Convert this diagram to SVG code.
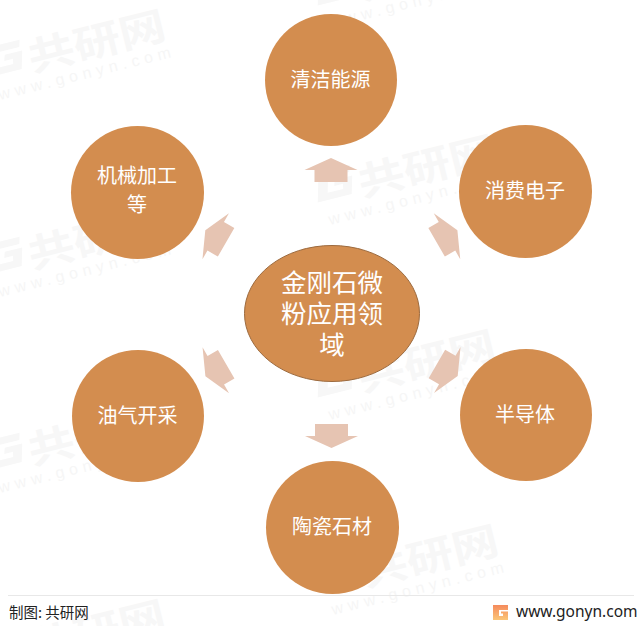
<svg xmlns="http://www.w3.org/2000/svg" width="642" height="626" viewBox="0 0 642 626">
<style>
text{font-family:"Noto Sans CJK SC","Liberation Sans",sans-serif}
.n{fill:#d38d4f}
.t{fill:#fff;font-size:20px;text-anchor:middle}
.a{fill:#e6c4b2}
.wm{fill:#f7f7f7;font-weight:700;font-size:39px}
.wu{fill:#f6f6f6;font-size:16px;font-family:"Liberation Sans",sans-serif}
</style>
<defs>
<linearGradient id="lg" x1="0" y1="0" x2="0" y2="1"><stop offset="0" stop-color="#f58a5c"/><stop offset="1" stop-color="#fbc678"/></linearGradient>
<polygon id="arr" points="0,-12 26.5,0 16.5,0 16.5,12 -16.5,12 -16.5,0 -26.5,0"/>
<g id="mark">
<path transform="translate(-12,62) rotate(-14)" d="M4,-14 H36 L34,-7 H12 L8,8 H24 L25,3 H16 L18,-3 H36 L31,15 H-4Z" fill="#f7f7f7"/>
<text class="wm" transform="translate(32,72) rotate(-14) scale(1.2,1)">共研网</text>
<text class="wu" transform="translate(0,100) rotate(-14)" textLength="177" lengthAdjust="spacing">www.gonyn.com</text>
</g>
</defs>
<rect width="642" height="626" fill="#fff"/>
<g id="watermarks">
<use href="#mark"/>
<use href="#mark" y="197"/>
<use href="#mark" y="393"/>
<use href="#mark" y="590"/>
<use href="#mark" x="330" y="-72"/>
<use href="#mark" x="330" y="125"/>
<use href="#mark" x="330" y="320"/>
<use href="#mark" x="333" y="515"/>
</g>
<g id="connectors" class="a">
<use href="#arr" transform="translate(331,170)"/>
<use href="#arr" transform="translate(447,236.3) rotate(60)"/>
<use href="#arr" transform="translate(447.3,370) rotate(120)"/>
<use href="#arr" transform="translate(331.5,436) rotate(180)"/>
<use href="#arr" transform="translate(215.8,370.3) rotate(-120)"/>
<use href="#arr" transform="translate(215.7,236.3) rotate(-60)"/>
</g>
<g id="center"><ellipse cx="332" cy="313.5" rx="87.500" ry="68" class="n" stroke="#9c6a3e" stroke-width="1"/>
<text class="t" style="font-size:25.5px"><tspan x="332" y="292">金刚石微</tspan><tspan x="332" y="323">粉应用领</tspan><tspan x="332" y="354">域</tspan></text></g>
<g id="n1"><circle cx="331" cy="80" r="66" class="n"/><text class="t" x="330.500" y="87">清洁能源</text></g>
<g id="n2"><circle cx="525.5" cy="191.5" r="66.5" class="n"/><text class="t" x="525" y="198">消费电子</text></g>
<g id="n3"><circle cx="526" cy="415" r="66" class="n"/><text class="t" x="525" y="422">半导体</text></g>
<g id="n4"><circle cx="332.5" cy="527.5" r="66.5" class="n"/><text class="t" x="332" y="534">陶瓷石材</text></g>
<g id="n5"><circle cx="138" cy="416" r="66" class="n"/><text class="t" x="137.500" y="423">油气开采</text></g>
<g id="n6"><circle cx="137.5" cy="192.5" r="66.5" class="n"/><text class="t"><tspan x="137" y="183">机械加工</tspan><tspan x="137" y="212">等</tspan></text></g>
<g id="footer">
<line x1="8" x2="634" y1="595.5" y2="595.5" stroke="#e8e8e8"/>
<text x="9" y="618" font-size="14.5" fill="#222">制图: 共研网</text>
<path d="M493,605 H508 V610 H499 V616 H503 V613.500 H501 V611.500 H508 V620 H493Z" fill="url(#lg)"/>
<text x="516" y="617" font-size="15.5" fill="#222" style="font-family:'Noto Sans','Liberation Sans',sans-serif">www.gonyn.com</text>
</g>
</svg>
